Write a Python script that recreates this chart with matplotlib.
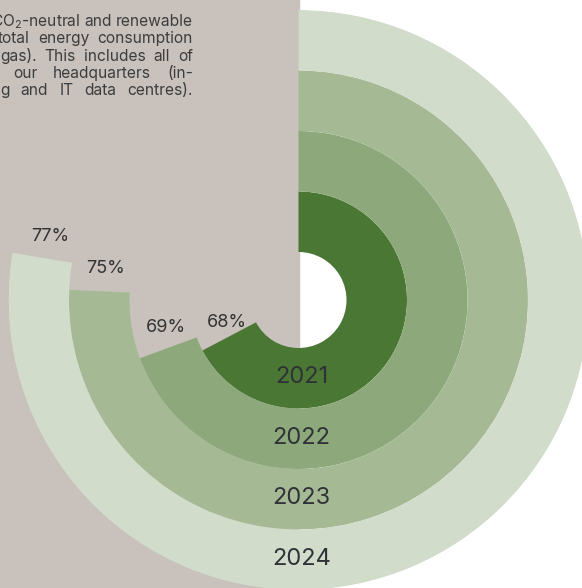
import numpy as np
import matplotlib
matplotlib.use("Agg")
import matplotlib.pyplot as plt
from matplotlib.patches import Rectangle

# données (part d'énergie CO2-neutre / renouvelable)
years = ["2021", "2022", "2023", "2024"]
shares = [67.3, 69.4, 75.7, 77.6]          # position de fin des arcs (%)
share_labels = ["68%", "69%", "75%", "77%"]
colors = ["#4b7735", "#8da97b", "#a5ba94", "#d1dccb"]

# texte d'introduction (coupé à gauche dans l'original)
para_lines = [
    ["CO$_2$-neutral", "and", "renewable"],
    ["total", "energy", "consumption"],
    ["gas).", "This", "includes", "all", "of"],
    ["our", "headquarters", "(in-"],
    ["g", "and", "IT", "data", "centres)."],
]
para_left = [-7, -2, 0, 13, 0]

W_PX, H_PX = 582, 588
cx, cy = 298.5, 300          # centre des anneaux (pixels)
r_hole, ring_w = 48, 60.5
r_out = r_hole + ring_w * len(years)

plt.rcParams["font.family"] = ["Inter", "DejaVu Sans"]
plt.rcParams["mathtext.fontset"] = "custom"
plt.rcParams["mathtext.rm"] = "Inter"
plt.rcParams["mathtext.it"] = "Inter"
plt.rcParams["mathtext.default"] = "regular"

fig = plt.figure(figsize=(W_PX / 100, H_PX / 100), dpi=100, facecolor="white")

# fond en coordonnées pixels
bg = fig.add_axes([0, 0, 1, 1])
bg.set_xlim(0, W_PX)
bg.set_ylim(H_PX, 0)
bg.axis("off")
bg.add_patch(Rectangle((0, 0), cx, H_PX, color="#c8c1bc", zorder=0))

# paragraphe justifié (espace minimal = une espace normale)
renderer = fig.canvas.get_renderer()
x_right = 193
min_gap = 4.0
baseline0, line_h = 26, 17.3
for i, words in enumerate(para_lines):
    y = baseline0 + i * line_h
    ts = [bg.text(0, y, w, fontsize=11.2, color="#3d3d3d", va="baseline", ha="left")
          for w in words]
    ws = [t.get_window_extent(renderer).width for t in ts]
    gap = (x_right - para_left[i] - sum(ws)) / (len(words) - 1)
    gap = max(gap, min_gap)
    x = x_right - sum(ws) - gap * (len(words) - 1)
    for t, w in zip(ts, ws):
        t.set_x(x)
        x += w + gap

# anneaux en coordonnées polaires
ax = fig.add_axes([(cx - r_out) / W_PX, (H_PX - cy - r_out) / H_PX,
                   2 * r_out / W_PX, 2 * r_out / H_PX], projection="polar")
ax.set_theta_zero_location("N")
ax.set_theta_direction(-1)
ax.set_ylim(0, r_out)
ax.set_axis_off()
ax.patch.set_alpha(0)

for i, (yr, s, lab) in enumerate(zip(years, shares, share_labels)):
    inner = r_hole + i * ring_w
    theta = s / 100 * 2 * np.pi
    ax.bar(0, ring_w, width=theta, bottom=inner, align="edge",
           color=colors[i], edgecolor="none", linewidth=0)
    r_mid = inner + ring_w / 2
    offset = np.radians(12.4 - 0.0285 * r_mid)
    ax.text(theta + offset, r_mid - 3.5, lab, fontsize=13, color="#333333",
            ha="center", va="center")
    # léger décalage vers la droite comme dans l'original
    ax.text(np.pi - 3 / r_mid, r_mid - 1, yr, fontsize=17, color="#2f3237",
            ha="center", va="center")

fig.savefig("out.png", dpi=100, facecolor="white")
